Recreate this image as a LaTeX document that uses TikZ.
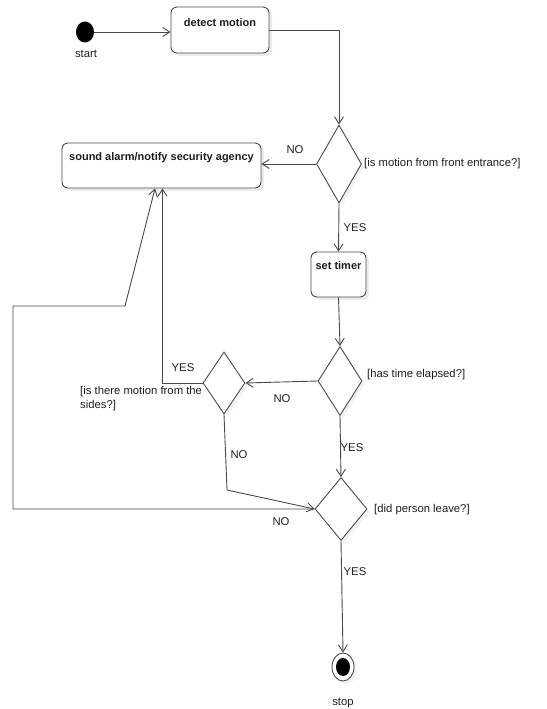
\documentclass[tikz,border=0pt]{standalone}
\usepackage{fontspec}
\setmainfont{Liberation Sans}
\usetikzlibrary{shapes.geometric,arrows.meta,shadows}
\definecolor{ln}{HTML}{4A4A4A}
\definecolor{tx}{HTML}{1E1E1E}
\tikzset{
  box/.style={draw=ln, line width=0.9pt, rounded corners=6pt, fill=white, inner sep=0pt,
    drop shadow={opacity=0.15, shadow xshift=3pt, shadow yshift=-3pt}},
  dec/.style={draw=ln, line width=0.9pt, diamond, fill=white, inner sep=0pt,
    drop shadow={opacity=0.1, shadow xshift=3pt, shadow yshift=-3pt}},
  btxt/.style={font=\fontsize{11}{13}\selectfont\bfseries, text=tx, inner sep=0pt},
  lbl/.style={font=\fontsize{11.3}{14.5}\selectfont, text=tx, inner sep=0pt},
  flow/.style={draw=ln, line width=0.9pt, -{Straight Barb[length=7pt,width=9pt]}},
}
\begin{document}
\begin{tikzpicture}[x=1pt,y=-1pt]
\useasboundingbox (0,0) rectangle (546,709);
% start / stop
\node[draw=none, fill=black, ellipse, minimum width=18pt, minimum height=21pt, inner sep=0pt] (start) at (85,32) {};
\node[lbl] (startl) at (86,54) {start};
\node[draw=ln, line width=0.9pt, ellipse, minimum width=22pt, minimum height=28pt, inner sep=0pt, fill=white,
  drop shadow={opacity=0.1, shadow xshift=3pt, shadow yshift=-3pt}] (stop) at (343,667) {};
\node[fill=black, ellipse, minimum width=14pt, minimum height=18pt, inner sep=0pt] (stopin) at (343,667) {};
\node[lbl] (stopl) at (343,703) {stop};
% boxes
\node[box, minimum width=98pt, minimum height=46pt] (dm) at (220,30) {};
\node[btxt] (dmt) at (220,23) {detect motion};
\node[box, minimum width=199pt, minimum height=45pt] (alarm) at (161.5,165.5) {};
\node[btxt] (alarmt) at (161.5,158) {sound alarm/notify security agency};
\node[box, minimum width=55pt, minimum height=45pt] (timer) at (338.5,274.5) {};
\node[btxt] (timert) at (338.5,266) {set timer};
% decisions
\node[dec, minimum width=45pt, minimum height=78pt] (d1) at (339,164) {};
\node[dec, minimum width=44pt, minimum height=69pt] (d2) at (340,381) {};
\node[dec, minimum width=42pt, minimum height=62pt] (d3) at (224,383) {};
\node[dec, minimum width=52pt, minimum height=63pt] (d4) at (341,509) {};
% guards
\node[lbl, anchor=west] (g1) at (364,164) {[is motion from front entrance?]};
\node[lbl, anchor=west] (g2) at (367,375) {[has time elapsed?]};
\node[lbl, anchor=west] (g4) at (374,510) {[did person leave?]};
\node[lbl, anchor=north west, align=left] (g3) at (80,386) {[is there motion from the\\sides?]};
% coordinates
\coordinate (c1) at (227,490);
\coordinate (n1) at (13,509);
\coordinate (n2) at (13,306);
\coordinate (n3) at (125,306);
% connectors
\draw[flow] (start.east) -- (start.east -| dm.west);
\draw[flow] (dm.east) -| (d1.north);
\draw[flow] (d1.west) -- (d1.west -| alarm.east);
\draw[flow] (d1.south) -- (timer.north);
\draw[flow] (timer.south) -- (d2.north);
\draw[flow] (d2.west) -- (d3.east);
\draw[flow] (d3.west) -| ([xshift=1pt]alarm.south);
\draw[flow] (d3.south) -- (c1) -- (d4.west);
\draw[flow] (d2.south) -- (d4.north);
\draw[flow] (d4.west) -- (n1) -- (n2) -- (n3) -- ([xshift=-6.5pt]alarm.south);
\draw[flow] (d4.south) -- (stop.north);
% edge labels
\node[lbl] (l1) at (295,150) {NO};
\node[lbl] (l2) at (355,228) {YES};
\node[lbl] (l3) at (282,399) {NO};
\node[lbl] (l4) at (183,368) {YES};
\node[lbl] (l5) at (239,455) {NO};
\node[lbl] (l6) at (352,448) {YES};
\node[lbl] (l7) at (281,522) {NO};
\node[lbl] (l8) at (355,572) {YES};
\end{tikzpicture}
\end{document}
